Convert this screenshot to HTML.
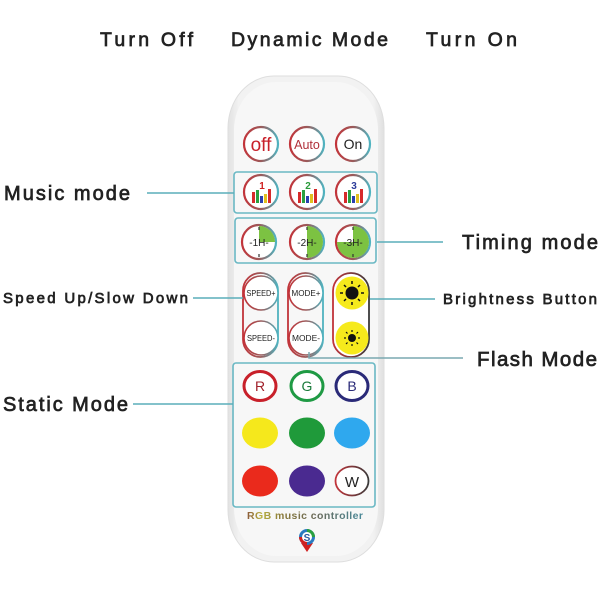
<!DOCTYPE html>
<html><head><meta charset="utf-8"><style>
html,body{margin:0;padding:0;background:#fff;}
svg{display:block;}
.lbl{font-family:"Liberation Sans",sans-serif;fill:#222;stroke:#222;stroke-width:0.7px;}
.btxt{font-family:"Liberation Sans",sans-serif;}
</style></head><body>
<svg width="600" height="600" viewBox="0 0 600 600" xmlns="http://www.w3.org/2000/svg">
<defs>
<linearGradient id="rt" x1="0" y1="0" x2="1" y2="0">
<stop offset="0" stop-color="#c2343a"/><stop offset="0.5" stop-color="#9b5a5a"/><stop offset="1" stop-color="#4fb3c0"/>
</linearGradient>
<linearGradient id="rd" x1="0" y1="0" x2="1" y2="0">
<stop offset="0" stop-color="#c2343a"/><stop offset="1" stop-color="#3a3a3a"/>
</linearGradient>
<linearGradient id="body" x1="0" y1="0" x2="1" y2="0">
<stop offset="0" stop-color="#e2e2e2"/><stop offset="0.07" stop-color="#f2f2f2"/><stop offset="0.93" stop-color="#f2f2f2"/><stop offset="1" stop-color="#e0e0e0"/>
</linearGradient>
<linearGradient id="rgbt" x1="0" y1="0" x2="1" y2="0">
<stop offset="0" stop-color="#8a5a3a"/><stop offset="0.12" stop-color="#b8b040"/><stop offset="0.3" stop-color="#8a7a3a"/><stop offset="0.6" stop-color="#6a6a5a"/><stop offset="1" stop-color="#4a8a9a"/>
</linearGradient>
</defs>

<!-- top labels -->
<text class="lbl" x="100" y="46" font-size="19.5" textLength="93" lengthAdjust="spacing">Turn Off</text>
<text class="lbl" x="231" y="46" font-size="19.5" textLength="157" lengthAdjust="spacing">Dynamic Mode</text>
<text class="lbl" x="426" y="46" font-size="19.5" textLength="91" lengthAdjust="spacing">Turn On</text>

<!-- remote body -->
<rect x="228" y="76" width="156" height="486" rx="46" ry="52" fill="url(#body)" stroke="#dedede" stroke-width="1"/>
<rect x="234" y="82" width="144" height="474" rx="42" ry="48" fill="#f7f7f7"/>

<!-- row 1 -->
<g stroke="url(#rt)" stroke-width="2.2" fill="#fff">
<circle cx="261" cy="144" r="17"/>
<circle cx="307" cy="144" r="17"/>
<circle cx="353" cy="144" r="17"/>
</g>
<text class="btxt" x="261" y="151" font-size="19" fill="#c8202a" text-anchor="middle">off</text>
<text class="btxt" x="307" y="149" font-size="12.5" fill="#b0303a" text-anchor="middle">Auto</text>
<text class="btxt" x="353" y="149" font-size="14" fill="#222" text-anchor="middle">On</text>

<!-- music mode box -->
<rect x="234" y="172" width="143" height="41" rx="3" fill="none" stroke="#6ab8c4" stroke-width="1.6"/>
<g stroke="url(#rt)" stroke-width="2.2" fill="#fff">
<circle cx="261" cy="192" r="17"/>
<circle cx="307" cy="192" r="17"/>
<circle cx="353" cy="192" r="17"/>
</g>
<g font-family="Liberation Sans,sans-serif" font-weight="bold" font-size="10" text-anchor="middle">
<text x="262" y="189" fill="#d02020">1</text>
<text x="308" y="189" fill="#2a9a3a">2</text>
<text x="354" y="189" fill="#2a3a9a">3</text>
</g>
<g>
<g transform="translate(261,192)">
<rect x="-9" y="0" width="3" height="11" fill="#d62a2a"/><rect x="-5" y="-2" width="3" height="13" fill="#2aa040"/><rect x="-1" y="4" width="3" height="7" fill="#2a40b0"/><rect x="3" y="2" width="3" height="9" fill="#e0c020"/><rect x="7" y="-3" width="3" height="14" fill="#d62a2a"/>
</g>
<g transform="translate(307,192)">
<rect x="-9" y="0" width="3" height="11" fill="#d62a2a"/><rect x="-5" y="-2" width="3" height="13" fill="#2aa040"/><rect x="-1" y="4" width="3" height="7" fill="#2a40b0"/><rect x="3" y="2" width="3" height="9" fill="#e0c020"/><rect x="7" y="-3" width="3" height="14" fill="#d62a2a"/>
</g>
<g transform="translate(353,192)">
<rect x="-9" y="0" width="3" height="11" fill="#d62a2a"/><rect x="-5" y="-2" width="3" height="13" fill="#2aa040"/><rect x="-1" y="4" width="3" height="7" fill="#2a40b0"/><rect x="3" y="2" width="3" height="9" fill="#e0c020"/><rect x="7" y="-3" width="3" height="14" fill="#d62a2a"/>
</g>
</g>

<!-- timing box -->
<rect x="235" y="218" width="141" height="45" rx="3" fill="none" stroke="#6ab8c4" stroke-width="1.6"/>
<g fill="#fff" stroke="url(#rt)" stroke-width="2.2">
<circle cx="259" cy="242" r="17"/>
<circle cx="307" cy="242" r="17"/>
<circle cx="353" cy="242" r="17"/>
</g>
<path d="M259,242 L259,226 A16,16 0 0 1 275,242 Z" fill="#7cc242"/>
<path d="M307,226 A16,16 0 0 1 307,258 Z" fill="#7cc242"/>
<path d="M353,242 L353,226 A16,16 0 1 1 337,242 Z" fill="#7cc242"/>
<g stroke="#333" stroke-width="1.2">
<line x1="259" y1="227" x2="259" y2="230"/><line x1="259" y1="254" x2="259" y2="257"/>
<line x1="307" y1="227" x2="307" y2="230"/><line x1="307" y1="254" x2="307" y2="257"/>
<line x1="353" y1="227" x2="353" y2="230"/><line x1="353" y1="254" x2="353" y2="257"/>
</g>
<g font-family="Liberation Sans,sans-serif" font-size="10" fill="#222" text-anchor="middle">
<text x="259" y="246">-1H-</text>
<text x="307" y="246">-2H-</text>
<text x="353" y="246">-3H-</text>
</g>

<!-- pills -->
<rect x="243" y="273" width="35" height="84" rx="17.5" fill="none" stroke="url(#rt)" stroke-width="1.8"/>
<rect x="288" y="273" width="35" height="84" rx="17.5" fill="none" stroke="url(#rt)" stroke-width="1.8"/>
<g fill="#fff" stroke="url(#rt)" stroke-width="1.6">
<circle cx="261" cy="293" r="17"/>
<circle cx="261" cy="338" r="17"/>
<circle cx="306" cy="293" r="17"/>
<circle cx="306" cy="338" r="17"/>
</g>
<g font-family="Liberation Sans,sans-serif" font-size="8.5" fill="#222" text-anchor="middle">
<text x="261" y="296" textLength="29" lengthAdjust="spacingAndGlyphs">SPEED+</text>
<text x="261" y="341" textLength="28" lengthAdjust="spacingAndGlyphs">SPEED-</text>
<text x="306" y="296" textLength="29" lengthAdjust="spacingAndGlyphs">MODE+</text>
<text x="306" y="341" textLength="28" lengthAdjust="spacingAndGlyphs">MODE-</text>
</g>
<rect x="333" y="273" width="36" height="84" rx="18" fill="#fff" stroke="url(#rd)" stroke-width="1.8"/>
<circle cx="352" cy="293" r="16.5" fill="#f6ea1c"/>
<circle cx="352" cy="338" r="16.5" fill="#f6ea1c"/>
<circle cx="352" cy="293" r="6.5" fill="#111"/>
<g stroke="#111" stroke-width="1.5">
<line x1="352" y1="281" x2="352" y2="284"/><line x1="352" y1="302" x2="352" y2="305"/>
<line x1="340" y1="293" x2="343" y2="293"/><line x1="361" y1="293" x2="364" y2="293"/>
<line x1="344" y1="285" x2="346" y2="287"/><line x1="358" y1="299" x2="360" y2="301"/>
<line x1="360" y1="285" x2="358" y2="287"/><line x1="346" y1="299" x2="344" y2="301"/>
</g>
<circle cx="352" cy="338" r="4" fill="#111"/>
<g stroke="#111" stroke-width="1.2">
<line x1="352" y1="330" x2="352" y2="332"/><line x1="352" y1="344" x2="352" y2="346"/>
<line x1="344" y1="338" x2="346" y2="338"/><line x1="358" y1="338" x2="360" y2="338"/>
<line x1="346" y1="332" x2="347.5" y2="333.5"/><line x1="356.5" y1="342.5" x2="358" y2="344"/>
<line x1="358" y1="332" x2="356.5" y2="333.5"/><line x1="347.5" y1="342.5" x2="346" y2="344"/>
</g>

<!-- static box -->
<rect x="233" y="363" width="142" height="144" rx="3" fill="none" stroke="#6ab8c4" stroke-width="1.6"/>
<ellipse cx="260" cy="386" rx="16" ry="14.5" fill="#fff" stroke="#c8202a" stroke-width="3"/>
<ellipse cx="307" cy="386" rx="16" ry="14.5" fill="#fff" stroke="#1f9a44" stroke-width="3"/>
<ellipse cx="352" cy="386" rx="16" ry="14.5" fill="#fff" stroke="#2a2a78" stroke-width="3"/>
<g font-family="Liberation Sans,sans-serif" font-size="14" text-anchor="middle">
<text x="260" y="391" fill="#a0202a">R</text>
<text x="307" y="391" fill="#1a7a3a">G</text>
<text x="352" y="391" fill="#2a2a78">B</text>
</g>
<ellipse cx="260" cy="433" rx="18" ry="15.5" fill="#f5e81c"/>
<ellipse cx="307" cy="433" rx="18" ry="15.5" fill="#1f9a3a"/>
<ellipse cx="352" cy="433" rx="18" ry="15.5" fill="#2fa8ee"/>
<ellipse cx="260" cy="481" rx="18" ry="15.5" fill="#ea2a1c"/>
<ellipse cx="307" cy="481" rx="18" ry="15.5" fill="#4a2a90"/>
<ellipse cx="352" cy="481" rx="16.5" ry="14.5" fill="#fff" stroke="url(#rd)" stroke-width="1.8"/>
<text x="352" y="487" font-family="Liberation Sans,sans-serif" font-size="15" fill="#222" text-anchor="middle">W</text>

<text x="247" y="519" font-family="Liberation Sans,sans-serif" font-weight="bold" font-size="10.5" fill="url(#rgbt)" textLength="116" lengthAdjust="spacing">RGB music controller</text>

<!-- logo -->
<path d="M301,543 L307,552 L313,543 Z" fill="#d02020"/>
<circle cx="307" cy="537" r="8" fill="#2a7ac0"/>
<path d="M307,529 A8,8 0 0 1 315,537 L307,537 Z" fill="#2aa040"/>
<path d="M299,537 A8,8 0 0 0 307,545 L307,537 Z" fill="#d02020"/>
<circle cx="307" cy="537" r="5" fill="#fff"/>
<text x="307" y="541" font-family="Liberation Sans,sans-serif" font-weight="bold" font-size="10" fill="#2a5aa0" text-anchor="middle">S</text>

<!-- connector lines -->
<g stroke="#5aaeba" stroke-width="1.5" fill="none">
<line x1="147" y1="193" x2="234" y2="193"/>
<line x1="377" y1="242" x2="443" y2="242"/>
<line x1="193" y1="298" x2="243" y2="298"/>
<line x1="370" y1="299" x2="435" y2="299"/>
<polyline points="309,352 309,358 463,358" stroke="#7aa8b0"/>
<line x1="133" y1="404" x2="233" y2="404"/>
</g>

<!-- side labels -->
<text class="lbl" x="4" y="200" font-size="20" textLength="126" lengthAdjust="spacing">Music mode</text>
<text class="lbl" x="462" y="249" font-size="20" textLength="136" lengthAdjust="spacing">Timing mode</text>
<text class="lbl" x="3" y="303" font-size="15" textLength="185" lengthAdjust="spacing">Speed Up/Slow Down</text>
<text class="lbl" x="443" y="304" font-size="15" textLength="154" lengthAdjust="spacing">Brightness Button</text>
<text class="lbl" x="477" y="366" font-size="20.5" textLength="120" lengthAdjust="spacing">Flash Mode</text>
<text class="lbl" x="3" y="411" font-size="20" textLength="125" lengthAdjust="spacing">Static Mode</text>
</svg>
</body></html>
